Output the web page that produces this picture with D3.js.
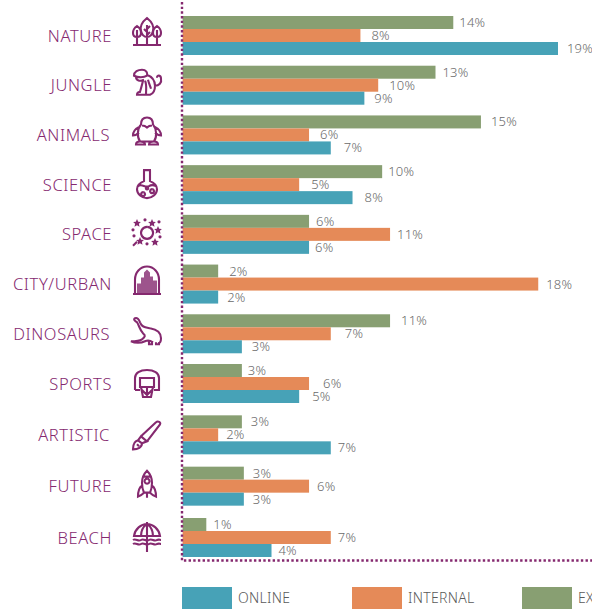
<!DOCTYPE html>
<html>
<head>
<meta charset="utf-8">
<script src="https://cdnjs.cloudflare.com/ajax/libs/d3/7.8.5/d3.min.js"></script>
<style>
html, body { margin: 0; padding: 0; background: #fff; overflow: hidden; }
svg { display: block; }
text { font-family: "Noto Sans", sans-serif; font-weight: 350; }
</style>
</head>
<body>
<svg id="chart"></svg>
<script>
var categories = ["NATURE","JUNGLE","ANIMALS","SCIENCE","SPACE","CITY/URBAN","DINOSAURS","SPORTS","ARTISTIC","FUTURE","BEACH"];
var seriesNames = ["EXTERNAL","INTERNAL","ONLINE"];
var legendOrder = ["ONLINE","INTERNAL","EXTERNAL"];

// bar lengths, they do not always agree with the printed labels
var external = [13.7,12.8,15.1,10.1,6.4,1.8,10.5,3.0,3.0,3.1,1.2];
var internal = [9.0,9.9,6.4,5.9,10.5,18.0,7.5,6.4,1.8,6.4,7.5];
var online = [19.0,9.2,7.5,8.6,6.4,1.8,3.0,5.9,7.5,3.1,4.5];

var externalLabels = ["14%","13%","15%","10%","6%","2%","11%","3%","3%","3%","1%"];
var internalLabels = ["8%","10%","6%","5%","11%","18%","7%","6%","2%","6%","7%"];
var onlineLabels = ["19%","9%","7%","8%","6%","2%","3%","5%","7%","3%","4%"];

var colors = {EXTERNAL:"#889f72", INTERNAL:"#e58a58", ONLINE:"#47a2b7"};
var purple = "#85296f";

// gap between bar end and its label, the original is not consistent
var externalGap = [6,7,10,6,7,11,11,6,9,9,7];
var internalGap = [11,11,11,12,7,8,14,14,8,8,7];
var onlineGap = [9,10,13,12,6,9,10,13,7,9,7];
var nameShift = [0,0,-2,0,0,0,-2,0,-2,0,0];

function star(cx,cy) {
	return "M"+cx+","+(cy-3.8)+"l1.2,2.6l2.7,0.3l-2,1.9l0.6,2.8l-2.5,-1.5l-2.5,1.5l0.6,-2.8l-2,-1.9l2.7,-0.3Z";
}
function dot(cx,cy) {
	return "M"+(cx-1.6)+","+cy+"a1.6,1.6 0 1,0 3.2,0a1.6,1.6 0 1,0 -3.2,0Z";
}

// icon outlines, drawn around the icon centre
var iconLines = [
	"M0,-14C5,-10 7,-5 6,-1C5,3 3,5 0,5C-3,5 -5,3 -6,-1C-7,-5 -5,-10 0,-14ZM0,-7V12M0,-3l3,-3M0,0l-3,-3M0,3l3,-3M-10,-6C-7,-4 -6,-1 -6,1C-6,4 -8,5 -10,5C-12,5 -14,4 -14,1C-14,-1 -13,-4 -10,-6ZM-10,-2V12M10,-6C13,-4 14,-1 14,1C14,4 12,5 10,5C8,5 6,4 6,1C6,-1 7,-4 10,-6ZM10,-2V12M-14,13H14",
	"M-13,-7C-13,-11 -9,-13 -5,-13C-1,-13 1,-10 0,-7C-3,-5 -9,-5 -13,-7ZM-11,-6C-11,-2 -7,-1 -3,-3M0,-8C5,-6 8,-2 8,3C8,8 6,11 3,12H-10C-10,10 -8,9 -6,9M-4,-2C-5,2 -6,6 -7,9M-2,-2C0,2 -1,6 -1,12M1,-3C2,1 3,3 4,6M8,3C12,3 15,0 14,-4C14,-8 10,-8 10,-5",
	"M0,-14C-4,-14 -6,-11 -6,-7C-10,-2 -10,6 -7,10H7C10,6 10,-2 6,-7C6,-11 4,-14 0,-14ZM-5,-6C-2,-6 -1,-5 0,-4C1,-5 2,-6 5,-6M-7,-5C-11,-3 -14,0 -14,4C-12,4 -10,3 -8,1M7,-5C11,-3 14,0 14,4C12,4 10,3 8,1M-11,13H-2C-2,11 -4,10 -7,10C-9,10 -11,11 -11,13ZM2,13H11C11,11 9,10 7,10C4,10 2,11 2,13Z",
	"M-4,-14H4M-3,-14V-3C-8,-1 -10,2 -10,5C-10,10 -5,14 0,14C5,14 10,10 10,5C10,2 8,-1 3,-3V-14M-9,2C-5,-1 -2,4 2,2C5,0 7,1 9,2M-4,8a2,2 0 1,0 0.1,0M5,5a2,2 0 1,0 0.1,0M0,3a1.2,1.2 0 1,0 0.1,0",
	"M0,-6a6,6 0 1,0 0.1,0M-14,13l4,-4",
	"M-12,13V-1C-12,-8 -7,-14 0,-14C7,-14 12,-8 12,-1V13M-14,13.5H14",
	"M-12,-14C-10,-15 -8,-13 -7,-10C-5,-5 -2,-5 3,-4C9,-3 14,0 14,6C14,9 13,11 11,11M-12,-14C-14,-13 -12,-11 -10,-10C-8,-7 -7,-2 -4,1C-1,3 -2,5 -5,7C-8,9 -12,9 -16,9C-12,11 -6,11 -2,9C0,8 3,8 6,10M2,9v3h3v-2M9,10v2h3v-2",
	"M-12,6V-6C-12,-11 -7,-14 0,-14C7,-14 12,-11 12,-6V6H7M-12,6H-7M-7,-6H7V3H-7ZM-8,3H8M-6,3L-4,13H4L6,3M-5,6L2,13M5,6L-2,13M0,3V13M-3,9H3",
	"M-14,14C-14,9 -13,6 -9,5L-5,8C-5,12 -9,14 -14,14ZM-9,5L-6,1L0,6L-5,8M-6,1L9,-13C11,-15 14,-13 13,-11L0,6M-10,9L-8,11",
	"M0,-15C4,-11 5,-7 5,-3C5,1 4,5 3,7H-3C-4,5 -5,1 -5,-3C-5,-7 -4,-11 0,-15ZM-4,-9H4M0,-7a2.5,2.5 0 1,0 0.1,0M-5,0C-8,2 -9,6 -9,11C-7,10 -5,9 -3,7M5,0C8,2 9,6 9,11C7,10 5,9 3,7M0,7V12",
	"M-13,-1C-12,-8 -6,-13 0,-13C6,-13 12,-8 13,-1ZM-6,-1C-6,-7 -3,-11 0,-13C3,-11 6,-7 6,-1M0,-15V15M-14,3C-11,1 -9,5 -6,3C-3,1 -1,5 2,3C5,1 7,5 10,3C12,2 13,3 14,3M-14,7C-11,5 -9,9 -6,7C-3,5 -1,9 2,7C5,5 7,9 10,7C12,6 13,7 14,7"
];
// filled parts of the icons (space stars, city buildings)
var iconFills = [
	"","","","",
	star(-10,-10)+star(5,-10)+star(11,-3)+star(8,9)+star(-7,8)+dot(-14,-3)+dot(-2,-13)+dot(12,-11)+dot(0,11)+dot(13,4)+dot(-13,3),
	"M-3,-8L0,-11L3,-8V-4H6V0H10V13H-10V3H-6V-3H-3Z",
	"","","","",""
];
var iconShift = [-3.5,-2.5,-3.5,-0.5,-1.5,-3.5,-1.5,0.5,0.5,-0.5,-0.5];

var width = 592,
    height = 609;

var barHeight = 13;
var labelRight = 112;
var iconX = 147;

var svg = d3.select("#chart").attr("width",width).attr("height",height);

var x = d3.scaleLinear().domain([0,19]).range([182.6,558]);
// row tops drift a little in the original, so the row scale is piecewise
var y = d3.scaleLinear().domain([0,7,10]).range([16,364,518]);
var inner = d3.scaleBand().domain(seriesNames).range([0,barHeight*3]);

var rows = categories.map(function(name,i) {
	return {name:name, i:i, bars:[
		{series:"EXTERNAL", value:external[i], label:externalLabels[i], gap:externalGap[i]},
		{series:"INTERNAL", value:internal[i], label:internalLabels[i], gap:internalGap[i]},
		{series:"ONLINE", value:online[i], label:onlineLabels[i], gap:onlineGap[i]}
	]};
});

var row = svg.selectAll("g.row").data(rows).enter().append("g")
	.attr("class","row")
	.attr("transform",function(d) { return "translate(0,"+y(d.i)+")"; });

row.append("text")
	.text(function(d) { return d.name; })
	.attr("x",function(d) { return labelRight+nameShift[d.i]; })
	.attr("y",barHeight*1.5+6)
	.attr("text-anchor","end")
	.attr("fill",purple)
	.style("font-size","16.5px")
	.style("letter-spacing","0.6px");

var icon = row.append("g")
	.attr("transform",function(d) { return "translate("+iconX+","+(barHeight*1.5+iconShift[d.i])+")"; });
icon.append("path")
	.attr("d",function(d) { return iconLines[d.i]; })
	.attr("fill","none")
	.attr("stroke",purple)
	.attr("stroke-width",2.1);
icon.append("path")
	.attr("d",function(d) { return iconFills[d.i]; })
	.attr("fill",purple)
	.attr("fill-opacity",function(d) { return d.name == "CITY/URBAN" ? 0.8 : 1; });

var bar = row.selectAll("g.bar").data(function(d) { return d.bars; }).enter().append("g").attr("class","bar");

bar.append("rect")
	.attr("x",x(0))
	.attr("y",function(d) { return inner(d.series); })
	.attr("width",function(d) { return x(d.value)-x(0); })
	.attr("height",inner.bandwidth())
	.attr("fill",function(d) { return colors[d.series]; });

bar.append("text")
	.text(function(d) { return d.label; })
	.attr("x",function(d) { return x(d.value)+d.gap; })
	.attr("y",function(d) { return inner(d.series)+11; })
	.attr("fill","#6a6a6a")
	.style("font-size","13px")
	.style("letter-spacing","0.2px");

// dotted frame on the left and bottom
svg.append("path")
	.attr("d","M182,2V560.5H"+width)
	.attr("fill","none")
	.attr("stroke",purple)
	.attr("stroke-width",2.4)
	.attr("stroke-dasharray","2.4,2.27");

var legendX = d3.scalePoint().domain(legendOrder).range([182,522]);
var legend = svg.selectAll("g.legend").data(legendOrder).enter().append("g")
	.attr("class","legend")
	.attr("transform",function(d) { return "translate("+legendX(d)+",587)"; });
legend.append("rect")
	.attr("width",50)
	.attr("height",22)
	.attr("fill",function(d) { return colors[d]; });
legend.append("text")
	.text(function(d) { return d; })
	.attr("x",56)
	.attr("y",16)
	.attr("fill","#5a5a5a")
	.style("font-size","14px")
	.style("letter-spacing","0.3px");
</script>
</body>
</html>
